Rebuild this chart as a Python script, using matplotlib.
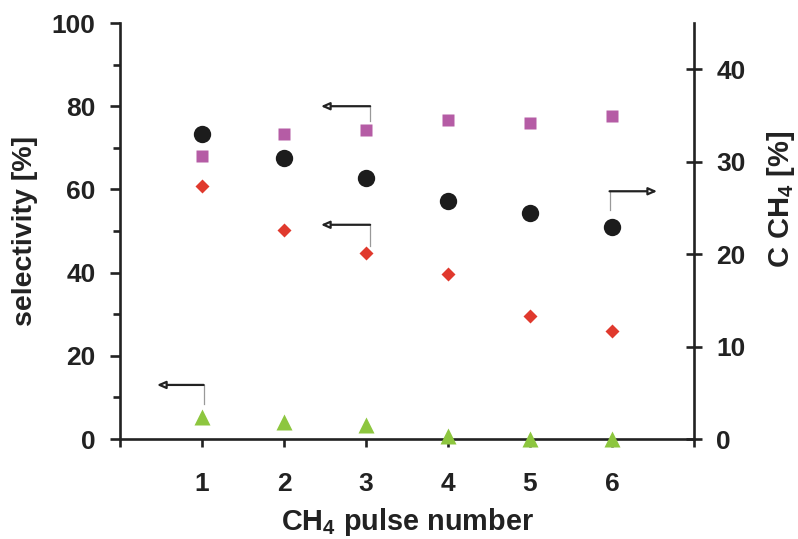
import matplotlib
matplotlib.use('Agg')
import matplotlib.pyplot as plt

plt.rcParams['font.family'] = ['Liberation Sans', 'DejaVu Sans']
plt.rcParams['font.weight'] = 'bold'
plt.rcParams['axes.labelweight'] = 'bold'
plt.rcParams['mathtext.fontset'] = 'custom'
plt.rcParams['mathtext.rm'] = 'Liberation Sans:bold'
plt.rcParams['mathtext.bf'] = 'Liberation Sans:bold'
plt.rcParams['mathtext.default'] = 'bf'

# data
pulse = [1, 2, 3, 4, 5, 6]
sel_square = [68.0, 73.3, 74.3, 76.7, 76.0, 77.6]
sel_diamond = [60.8, 50.2, 44.7, 39.7, 29.6, 26.0]
sel_triangle = [5.3, 4.1, 3.4, 0.7, 0.0, 0.0]
conv_ch4 = [33.0, 30.4, 28.2, 25.7, 24.5, 22.9]

# arrows: (tail x, head x, y, y of marker end of the vertical stub)
left_arrows = [(3.05, 2.45, 80.0, 76.5), (3.05, 2.45, 51.5, 46.5), (1.02, 0.45, 13.0, 8.5)]
right_arrows = [(5.97, 6.55, 26.8, 24.8)]

dark = '#222222'
fig = plt.figure(figsize=(7.98, 5.39), dpi=100)
ax = fig.add_axes([0.1504, 0.1855, 0.7193, 0.7718])
ax2 = ax.twinx()

ax.plot(pulse, sel_square, 's', color='#b55ca5', ms=9, mec='none', zorder=3)
ax.plot(pulse, sel_diamond, 'D', color='#e0392d', ms=7.5, mec='none', zorder=3)
ax.plot(pulse, sel_triangle, '^', color='#8dc63f', ms=11, mec='none', zorder=3, clip_on=False)
ax2.plot(pulse, conv_ch4, 'o', color='#1c1c1c', ms=12.5, mec='none', zorder=3)

ax.set_xlim(0, 7)
ax.set_ylim(0, 100)
ax2.set_ylim(0, 45)

ax.set_xticks(range(0, 8))
ax.set_xticklabels([''] + [str(p) for p in pulse] + [''])
ax.set_yticks(range(0, 101, 20))
ax.set_yticks(range(10, 100, 20), minor=True)
ax2.set_yticks(range(0, 41, 10))

for a in (ax, ax2):
    for s in a.spines.values():
        s.set_linewidth(1.9)
        s.set_color(dark)
    a.spines['top'].set_visible(False)
ax.spines['right'].set_visible(False)
ax2.spines['left'].set_visible(False)
ax2.spines['bottom'].set_visible(False)

ax.tick_params(axis='y', which='major', length=7.5, width=1.9, color=dark, labelsize=19, pad=10, labelcolor=dark)
ax.tick_params(axis='y', which='minor', length=5, width=1.9, color=dark)
ax.tick_params(axis='x', length=6, width=1.9, color=dark, labelsize=19, pad=18, labelcolor=dark)
ax2.tick_params(axis='y', direction='inout', length=12, width=1.9, color=dark, labelsize=19, pad=10, labelcolor=dark)

ax.set_ylabel('selectivity [%]', fontsize=20.5, color=dark, labelpad=10)
ax.set_xlabel(r'CH$_4$ pulse number', fontsize=20.8, color=dark, labelpad=7)
ax2.set_ylabel(r'C CH$_4$ [%]', fontsize=21, color=dark)
ax2.yaxis.set_label_coords(1.124, 0.575)

def draw_arrows(a, arrows):
    for x0, x1, y, ystub in arrows:
        a.annotate('', xy=(x1, y), xytext=(x0, y),
                   arrowprops=dict(arrowstyle='-|>,head_length=0.5,head_width=0.22',
                                   fc='white', ec=dark, lw=1.6, shrinkA=0, shrinkB=0))
        a.plot([x0, x0], [y, ystub], color='#999999', lw=0.9)

draw_arrows(ax, left_arrows)
draw_arrows(ax2, right_arrows)

fig.savefig('out.png', dpi=100)
